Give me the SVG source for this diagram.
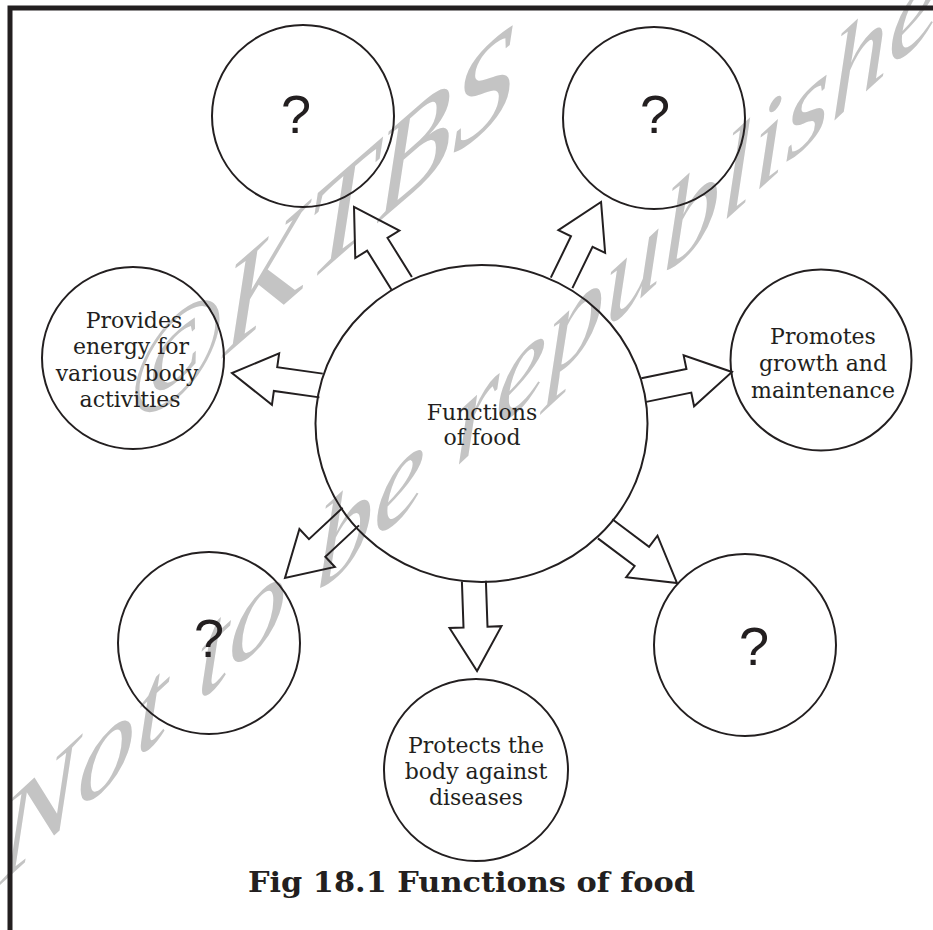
<svg xmlns="http://www.w3.org/2000/svg" width="933" height="930" viewBox="0 0 933 930">
  <style>
    .ring { fill: none; stroke: #231f20; stroke-width: 2; }
    .arrow { fill: none; stroke: #231f20; stroke-width: 2; stroke-linejoin: miter; }
    .label { font-family: "DejaVu Serif", "Liberation Serif", serif; font-size: 22px; fill: #231f20; text-anchor: middle; }
    .quest { font-family: "Liberation Sans", Arial, sans-serif; font-size: 54px; fill: #231f20; text-anchor: middle; }
    .caption { font-family: "DejaVu Serif", "Liberation Serif", serif; font-size: 28px; font-weight: bold; fill: #231f20; }
    .mark { font-family: "Liberation Serif", "Times New Roman", serif; font-style: italic; fill: #c4c4c4; }
  </style>
  <defs>
    <!-- hollow block arrow pointing along +x, open at its base -->
    <path id="blockArrow" d="M0,-12 L46,-12 L46,-26 L90,0 L46,26 L46,12 L0,12"/>
  </defs>

  <rect width="933" height="930" fill="#ffffff"/>

  <!-- watermark, sheared upward -->
  <g id="watermark">
    <text class="mark" font-size="125" transform="translate(128,440) skewY(-41)">©KTBS</text>
    <text class="mark" font-size="116" transform="translate(0,885) skewY(-42.5)">Not to be republished</text>
  </g>

  <!-- frame -->
  <path d="M10,930 V8 H933" fill="none" stroke="#231f20" stroke-width="5"/>

  <g id="connectors">
    <use href="#blockArrow" class="arrow" transform="translate(401.7,283.3) rotate(-122)"/>
    <use href="#blockArrow" class="arrow" transform="translate(561.6,282.9) rotate(-64)"/>
    <use href="#blockArrow" class="arrow" transform="translate(321.1,385.5) rotate(-172)"/>
    <use href="#blockArrow" class="arrow" transform="translate(643.8,390.1) rotate(-11.6)"/>
    <use href="#blockArrow" class="arrow" transform="translate(350.8,516.6) rotate(137)"/>
    <use href="#blockArrow" class="arrow" transform="translate(605.1,528.8) rotate(37)"/>
    <use href="#blockArrow" class="arrow" transform="translate(473.9,581.1) rotate(88)"/>
  </g>

  <g id="center">
    <ellipse class="ring" cx="481.5" cy="423.5" rx="166" ry="158.5"/>
    <text class="label" x="482" y="420">Functions</text>
    <text class="label" x="482" y="445">of food</text>
  </g>

  <g id="top-left">
    <circle class="ring" cx="303" cy="116" r="91"/>
    <text class="quest" x="296" y="133">?</text>
  </g>

  <g id="top-right">
    <circle class="ring" cx="654" cy="118" r="91"/>
    <text class="quest" x="655" y="133">?</text>
  </g>

  <g id="energy">
    <circle class="ring" cx="133" cy="358" r="91"/>
    <text class="label" x="134" y="328">Provides</text>
    <text class="label" x="131" y="354">energy for</text>
    <text class="label" x="127" y="381">various body</text>
    <text class="label" x="130" y="407">activities</text>
  </g>

  <g id="growth">
    <circle class="ring" cx="821" cy="360" r="90.5"/>
    <text class="label" x="823" y="344">Promotes</text>
    <text class="label" x="823" y="371">growth and</text>
    <text class="label" x="823" y="398">maintenance</text>
  </g>

  <g id="bottom-left">
    <circle class="ring" cx="209" cy="643" r="91"/>
    <text class="quest" x="209" y="657">?</text>
  </g>

  <g id="bottom-right">
    <circle class="ring" cx="745" cy="645" r="91"/>
    <text class="quest" x="754" y="665">?</text>
  </g>

  <g id="protects">
    <ellipse class="ring" cx="476" cy="770" rx="92" ry="91"/>
    <text class="label" x="476" y="753">Protects the</text>
    <text class="label" x="476" y="779">body against</text>
    <text class="label" x="476" y="805">diseases</text>
  </g>

  <text class="caption" x="248" y="892" textLength="447" lengthAdjust="spacingAndGlyphs">Fig 18.1 Functions of food</text>
</svg>
